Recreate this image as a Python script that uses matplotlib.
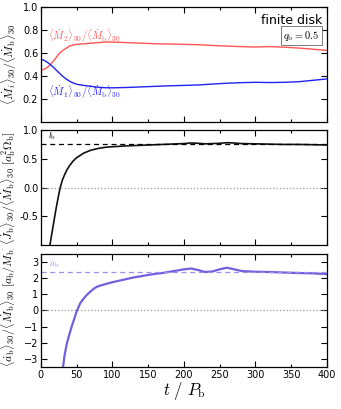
import matplotlib
matplotlib.use("Agg")
import matplotlib.pyplot as plt
from matplotlib.ticker import MultipleLocator, FormatStrFormatter
from matplotlib.transforms import Bbox, TransformedBbox

plt.rcParams['mathtext.fontset'] = 'cm'
plt.rcParams['font.family'] = ['DejaVu Sans']

# ---- data ----
t_m = [0, 5, 10, 15, 20, 25, 30, 35, 40, 45, 50, 60, 70, 80, 90, 100, 120, 140, 160, 180,
       200, 220, 240, 260, 280, 300, 320, 340, 360, 380, 400]
m2_ratio = [0.45, 0.46, 0.48, 0.51, 0.55, 0.59, 0.62, 0.64, 0.66, 0.67, 0.675, 0.68, 0.685,
            0.69, 0.695, 0.695, 0.69, 0.685, 0.68, 0.678, 0.675, 0.672, 0.665, 0.66, 0.655,
            0.652, 0.655, 0.65, 0.643, 0.633, 0.622]
m1_ratio = [0.545, 0.535, 0.515, 0.49, 0.46, 0.43, 0.40, 0.375, 0.355, 0.34, 0.328, 0.318,
            0.31, 0.302, 0.298, 0.297, 0.300, 0.305, 0.31, 0.315, 0.318, 0.322, 0.330, 0.337,
            0.342, 0.345, 0.343, 0.345, 0.350, 0.362, 0.375]

t_j = [12.6, 15, 18, 21, 24, 27, 30, 33, 36, 40, 45, 50, 55, 60, 70, 80, 90, 100, 120, 140,
       160, 180, 200, 210, 220, 230, 240, 250, 260, 270, 280, 300, 320, 340, 360, 380, 400]
jdot = [-1.0, -0.82, -0.6, -0.38, -0.18, 0.0, 0.13, 0.22, 0.3, 0.38, 0.46, 0.52, 0.56, 0.6,
        0.65, 0.68, 0.70, 0.71, 0.725, 0.735, 0.745, 0.755, 0.765, 0.775, 0.77, 0.76, 0.765,
        0.77, 0.78, 0.775, 0.765, 0.76, 0.755, 0.75, 0.75, 0.745, 0.74]
l_b = 0.76

t_a = [31, 33, 36, 40, 43, 46, 50, 55, 60, 65, 70, 75, 80, 90, 100, 110, 120, 130, 140, 150,
       160, 170, 180, 190, 200, 210, 220, 230, 240, 250, 260, 270, 280, 290, 300, 320, 340,
       360, 380, 400]
adot = [-3.5, -2.8, -2.1, -1.45, -1.0, -0.6, -0.05, 0.45, 0.75, 1.0, 1.2, 1.38, 1.5, 1.63,
        1.75, 1.85, 1.95, 2.05, 2.12, 2.2, 2.27, 2.32, 2.4, 2.47, 2.55, 2.6, 2.5, 2.38, 2.42,
        2.55, 2.65, 2.55, 2.45, 2.42, 2.4, 2.38, 2.35, 2.32, 2.3, 2.25]
a_b = 2.4

red = '#ff5555'
blue = '#2222ee'
purple = '#7060e0'
lpurple = '#9a90ea'

fig = plt.figure(figsize=(3.41, 4.09), dpi=100)
L, R = 0.120, 0.959
ax1 = fig.add_axes([L, 0.7017, R - L, 0.983 - 0.7017])
ax2 = fig.add_axes([L, 0.401, R - L, 0.682 - 0.401])
ax3 = fig.add_axes([L, 0.103, R - L, 0.379 - 0.103])

for ax in (ax1, ax2, ax3):
    ax.set_xlim(0, 400)
    ax.xaxis.set_major_locator(MultipleLocator(100))
    ax.xaxis.set_minor_locator(MultipleLocator(50))
    ax.tick_params(which='both', direction='in', top=True, right=True, labelsize=7,
                   pad=2, width=0.8)
    ax.tick_params(which='major', length=4)
    ax.tick_params(which='minor', length=2.5)
    for s in ax.spines.values():
        s.set_linewidth(0.9)
    if ax is not ax3:
        ax.tick_params(which='both', labelbottom=False)

ax3.xaxis.set_major_formatter(FormatStrFormatter('%d'))
ax3.xaxis.set_minor_formatter(FormatStrFormatter('%d'))

# panel 1
ax1.plot(t_m, m2_ratio, color=red, lw=1.0)
ax1.plot(t_m, m1_ratio, color=blue, lw=1.0)
ax1.set_ylim(0, 1.0)
ax1.set_yticks([0.2, 0.4, 0.6, 0.8, 1.0])
ax1.yaxis.set_major_formatter(FormatStrFormatter('%.1f'))
ax1.text(10, 0.745, r'$\langle \dot{M}_2\rangle_{30}/\langle \dot{M}_{\rm b}\rangle_{30}$',
         color=red, fontsize=7.5, va='center', ha='left')
ax1.text(10, 0.255, r'$\langle \dot{M}_1\rangle_{30}/\langle \dot{M}_{\rm b}\rangle_{30}$',
         color=blue, fontsize=7.5, va='center', ha='left')
ax1.text(0.985, 0.94, 'finite disk', transform=ax1.transAxes, ha='right', va='top',
         fontsize=9)
ax1.text(0.972, 0.75, r'$q_{\rm b}=0.5$', transform=ax1.transAxes, ha='right', va='center',
         fontsize=7.5,
         bbox=dict(boxstyle='square,pad=0.25', fc='white', ec='0.4', lw=0.6))

# panel 2
ax2.plot(t_j, jdot, color='#111111', lw=1.2)
ax2.axhline(l_b, color='black', ls='--', lw=0.9, dashes=(4, 3))
ax2.axhline(0, color='0.6', ls=':', lw=0.9)
ax2.set_ylim(-1.0, 1.0)
ax2.set_yticks([-0.5, 0.0, 0.5, 1.0])
ax2.yaxis.set_major_formatter(FormatStrFormatter('%.1f'))
ax2.text(10, l_b + 0.04, r'$l_{\rm b}$', fontsize=6.5, color='black', ha='left', va='bottom')

# panel 3
ax3.plot(t_a, adot, color=purple, lw=1.6)
ax3.axhline(a_b, color=lpurple, ls='--', lw=0.9, dashes=(4, 3))
ax3.axhline(0, color='0.6', ls=':', lw=0.9)
ax3.text(11, a_b + 0.12, r'$\dot{a}_{\rm b}$', fontsize=6.5, color=lpurple, ha='left',
         va='bottom')
ax3.set_ylim(-3.5, 3.5)
ax3.set_yticks([-3, -2, -1, 0, 1, 2, 3])
ax3.set_xlabel(r'$t\ /\ P_{\rm b}$', fontsize=12, labelpad=0)

# y labels
yl1 = ax1.set_ylabel(r'$\langle \dot{M}_i\rangle_{30}/\langle \dot{M}_{\rm b}\rangle_{30}$',
                     fontsize=8.5)
ax1.yaxis.set_label_coords(-0.075, 0.5)

long_labels = [
    (ax2, r'$\langle \dot{J}_{\rm b}\rangle_{30}/\langle \dot{M}_{\rm b}\rangle_{30}\ [a_{\rm b}^2\Omega_{\rm b}]$'),
    (ax3, r'$\langle \dot{a}_{\rm b}\rangle_{30}/\langle \dot{M}_{\rm b}\rangle_{30}\ [a_{\rm b}/M_{\rm b}]$'),
]
for ax, lab in long_labels:
    yl = ax.set_ylabel(lab, fontsize=8.5, ha='left')
    ax.yaxis.set_label_coords(-0.08, 0.0)
    yl.set_clip_on(True)
    yl.set_clip_box(TransformedBbox(Bbox([[-0.5, -0.05], [0.05, 1.04]]), ax.transAxes))

fig.savefig('out.png', dpi=100)
